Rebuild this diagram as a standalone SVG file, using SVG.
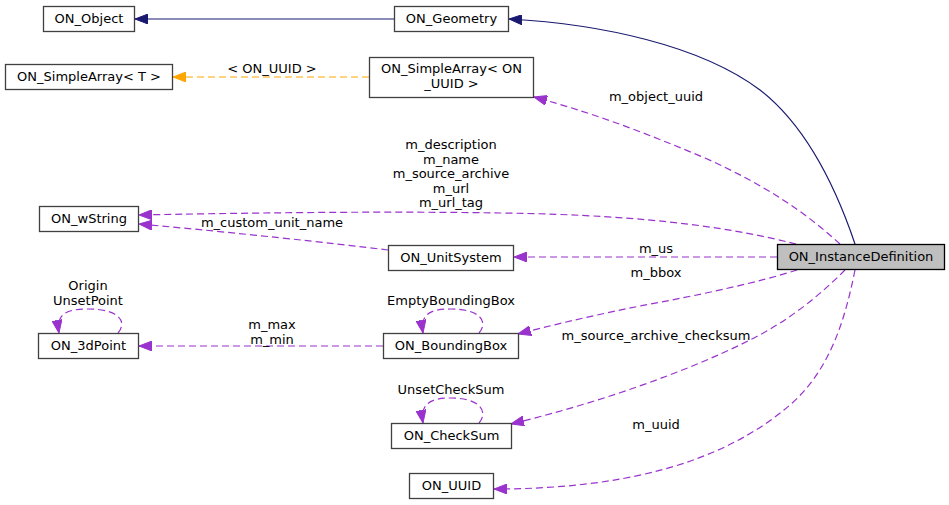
<svg xmlns="http://www.w3.org/2000/svg" width="949" height="505" viewBox="0 0 949 505">
<style>
.n rect{fill:#fff;stroke:#404040;stroke-width:1.3}
.n.main rect{fill:#bfbfbf;stroke:#000}
text{font-family:"DejaVu Sans","Liberation Sans",sans-serif;font-size:13px;fill:#000;text-anchor:middle}
.e path{fill:none;stroke-width:1.2}
.blue{stroke:#191970}
.orange{stroke:#ffa500;stroke-dasharray:7,4}
.purple{stroke:#9a32cd;stroke-dasharray:7,4}
</style>
<defs>
<marker id="ab" viewBox="0 0 13 10" refX="13" refY="5" markerWidth="13" markerHeight="10" markerUnits="userSpaceOnUse" orient="auto"><path d="M13,5 L0,0 L0,10 z" fill="#191970" stroke="#191970"/></marker>
<marker id="ao" viewBox="0 0 13 10" refX="13" refY="5" markerWidth="13" markerHeight="10" markerUnits="userSpaceOnUse" orient="auto"><path d="M13,5 L0,0 L0,10 z" fill="#ffa500" stroke="#ffa500"/></marker>
<marker id="ap" viewBox="0 0 13 10" refX="13" refY="5" markerWidth="13" markerHeight="10" markerUnits="userSpaceOnUse" orient="auto"><path d="M13,5 L0,0 L0,10 z" fill="#9a32cd" stroke="#9a32cd"/></marker>
</defs>
<rect width="949" height="505" fill="#fff"/>
<g id="edges" class="e">
<path class="blue" d="M394,19 L135,19" marker-end="url(#ab)"/>
<path class="blue" d="M855,244 C835,185 805,125 760,90 C700,45 600,24 509,19" marker-end="url(#ab)"/>
<path class="orange" d="M369,77 L173,77" marker-end="url(#ao)"/>
<path class="purple" d="M840,244 C805,212 765,185 705,158 C650,135 600,115 534,97" marker-end="url(#ap)"/>
<path class="purple" d="M796,244 C740,230 660,215 500,213 C380,211 240,213 139,215" marker-end="url(#ap)"/>
<path class="purple" d="M388,250 C330,243 240,233 139,224" marker-end="url(#ap)"/>
<path class="purple" d="M777,257 L514,257" marker-end="url(#ap)"/>
<path class="purple" d="M797,270 C760,282 700,295 640,306 C600,314 560,323 518,334" marker-end="url(#ap)"/>
<path class="purple" d="M845,270 C820,295 790,320 750,340 C680,375 590,405 511,424" marker-end="url(#ap)"/>
<path class="purple" d="M855,270 C845,320 830,370 790,405 C720,465 620,489 494,489" marker-end="url(#ap)"/>
<path class="purple" d="M383,346 L139,346" marker-end="url(#ap)"/>
<path class="purple" d="M118,333 C128,321 118,309 88,309 C66,309 56,314 59,333" marker-end="url(#ap)"/>
<path class="purple" d="M479,333 C489,321 479,309 451,309 C430,309 420,314 423,333" marker-end="url(#ap)"/>
<path class="purple" d="M479,423 C489,411 479,398 451,398 C430,398 420,404 423,423" marker-end="url(#ap)"/>
<text x="272" y="73">&lt; ON_UUID &gt;</text>
<text x="656" y="101">m_object_uuid</text>
<text x="451" y="149">m_description</text>
<text x="451" y="163.5">m_name</text>
<text x="451" y="178">m_source_archive</text>
<text x="451" y="192.5">m_url</text>
<text x="451" y="207">m_url_tag</text>
<text x="272" y="227">m_custom_unit_name</text>
<text x="656" y="253">m_us</text>
<text x="656" y="277">m_bbox</text>
<text x="88" y="290">Origin</text>
<text x="88" y="304.5">UnsetPoint</text>
<text x="451" y="305">EmptyBoundingBox</text>
<text x="272" y="329">m_max</text>
<text x="272" y="343.5">m_min</text>
<text x="656" y="340">m_source_archive_checksum</text>
<text x="451" y="394">UnsetCheckSum</text>
<text x="656" y="429">m_uuid</text>
</g>
<g id="ON_Object" class="n"><rect x="43.5" y="6.5" width="91" height="25"/><text x="89" y="23">ON_Object</text></g>
<g id="ON_Geometry" class="n"><rect x="394.5" y="6.5" width="114" height="25"/><text x="451.5" y="23">ON_Geometry</text></g>
<g id="ON_SimpleArray_T" class="n"><rect x="5.5" y="64.5" width="167" height="25"/><text x="89" y="81">ON_SimpleArray&lt; T &gt;</text></g>
<g id="ON_SimpleArray_ON_UUID" class="n"><rect x="369.5" y="57.5" width="164" height="40"/><text x="451.5" y="73">ON_SimpleArray&lt; ON</text><text x="451.5" y="88">_UUID &gt;</text></g>
<g id="ON_wString" class="n"><rect x="39.5" y="206.5" width="99" height="25"/><text x="89" y="223">ON_wString</text></g>
<g id="ON_UnitSystem" class="n"><rect x="388.5" y="245.5" width="125" height="25"/><text x="451" y="262">ON_UnitSystem</text></g>
<g id="ON_InstanceDefinition" class="n main"><rect x="777.5" y="244.5" width="167" height="25"/><text x="861" y="261">ON_InstanceDefinition</text></g>
<g id="ON_3dPoint" class="n"><rect x="38.5" y="333.5" width="100" height="25"/><text x="88.5" y="350">ON_3dPoint</text></g>
<g id="ON_BoundingBox" class="n"><rect x="383.5" y="333.5" width="135" height="25"/><text x="451" y="350">ON_BoundingBox</text></g>
<g id="ON_CheckSum" class="n"><rect x="391.5" y="423.5" width="120" height="25"/><text x="451.5" y="440">ON_CheckSum</text></g>
<g id="ON_UUID" class="n"><rect x="409.5" y="473.5" width="84" height="25"/><text x="451.5" y="490">ON_UUID</text></g>
</svg>
